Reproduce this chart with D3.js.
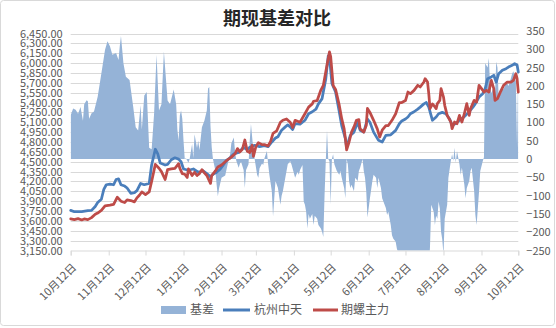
<!DOCTYPE html>
<html>
<head>
<meta charset="utf-8">
<script src="https://cdn.jsdelivr.net/npm/d3@7"></script>
<style>
  html, body { margin: 0; padding: 0; background: #fff; }
  svg { display: block; font-family: "Noto Sans CJK SC", "Liberation Sans", sans-serif; }
</style>
</head>
<body>
<svg id="chart" width="556" height="328"></svg>
<script>
// ---- data (dates as yymmdd) ----
const basisDates = ["201012","201014","201016","201018","201020","201022","201023","201025","201026","201027","201029","201031",
  "201103","201106","201109","201111","201113","201115","201118","201120","201121","201122","201124","201126","201129",
  "201202","201204","201206","201208","201209","201211","201213","201215","201217","201219","201221","201223","201225","201227","201230",
  "210101","210104","210106","210107","210108","210109","210110","210111","210112","210113","210114","210116","210117","210119","210120",
  "210121","210123","210124","210125","210127","210129","210131",
  "210201","210202","210203","210204","210205","210207","210208","210209","210210","210212","210215","210217","210219","210220","210222",
  "210223","210224","210226","210227","210228",
  "210302","210303","210304","210306","210307","210308","210310","210311","210313","210314","210315","210317","210318","210319","210321",
  "210322","210323","210325","210326","210327","210328","210330",
  "210401","210402","210403","210405","210406","210407","210409","210410","210413","210415","210416","210417","210419","210420","210421",
  "210422","210423","210424","210425","210427","210428","210429",
  "210501","210502","210504","210505","210506","210507","210508","210509","210510","210511","210512","210513","210514","210515","210517",
  "210519","210520","210521","210523","210524","210525","210526","210527","210528","210529","210531",
  "210601","210603","210604","210605","210607","210608","210609","210610","210611","210613","210615","210616","210618","210619","210620",
  "210622","210623","210624","210626","210627","210628","210630",
  "210701","210702","210704","210705","210707","210709","210714","210719","210724","210729","210731",
  "210801","210802","210804","210805","210806","210807","210808","210809","210810","210811","210812","210813","210814","210815","210816",
  "210818","210819","210820","210821","210822","210823","210825","210826","210827","210829","210830","210831",
  "210902","210903","210904","210906","210907","210908","210909","210910","210911","210913","210914","210915","210917","210918","210919",
  "210920","210922","210923","210924","210925","210926","210928","210929","210930",
  "211002","211003","211004","211006","211007","211008","211009","211010","211011","211012"];
const basisValues = [120,138,135,124,142,105,150,161,158,110,125,130,
  170,234,299,322,308,285,290,271,308,336,262,225,216,
  142,87,78,147,81,174,183,31,27,124,285,133,150,294,160,
  150,190,150,80,50,120,133,110,50,0,2,-10,0,41,3,
  68,30,50,25,87,105,133,
  193,197,90,32,0,-33,-70,-102,-80,-51,-45,-14,13,43,59,
  22,-5,-24,-12,-8,
  -30,-79,-30,-14,50,96,22,0,-43,-51,-25,-12,-16,2,22,
  -14,-43,-88,-157,-107,-60,-79,
  -125,-100,-88,-51,-33,-14,-6,-14,-51,-35,-43,-30,-16,-116,-125,
  -144,-190,-150,-163,-150,-180,-155,
  -163,-180,-190,-199,-213,-100,-6,78,0,-6,-125,0,13,-14,-33,
  -43,-33,-51,-79,-107,0,-14,-60,-79,-70,-88,
  -51,-60,-33,-24,0,-33,-51,-88,-160,-107,-60,-43,-51,-79,-51,
  -79,-107,-116,-134,-153,-144,-180,
  -208,-217,-226,-245,-265,-300,-320,-300,-310,-290,-300,
  -240,-125,-144,-180,-155,-163,-116,-135,-199,-220,-260,-163,-144,-125,-51,
  -5,13,-5,31,-10,22,-14,-43,-24,-70,-107,-79,
  -60,-33,-24,-88,-153,-180,-135,-88,-33,-6,5,262,250,276,200,
  180,200,170,266,250,170,180,200,190,
  210,207,200,221,234,240,225,212,30,285];

const spotDates = ["201012","201015","201021","201026","201029","201101","201103","201106","201108","201110","201113","201116",
  "201118","201120","201122","201125","201127","201130","201203","201205","201208","201211","201215","201217","201220","201222",
  "201224","201228","201230","210102","210105","210108","210110","210112","210116","210120","210124","210128","210131",
  "210203","210205","210208","210211","210213","210216","210219","210222","210226","210302","210305","210307","210311","210315",
  "210319","210322","210325","210328","210330","210402","210405","210407","210409","210411","210413","210417","210421","210424",
  "210427","210430","210502","210505","210508","210510","210511","210513","210516","210519","210521","210524","210525","210528",
  "210531","210603","210605","210608","210611","210613","210616","210620","210623","210626","210630","210704","210707","210709",
  "210712","210714","210716","210719","210722","210724","210727","210729","210731","210803","210806","210808","210811","210814",
  "210817","210819","210822","210825","210827","210830","210902","210905","210907","210910","210913","210915","210917","210920",
  "210922","210924","210926","210929","211002","211004","211007","211009","211011","211012"];
const spotValues = [3760,3740,3740,3755,3760,3820,3880,3930,4080,4150,4160,4150,
  4230,4240,4150,4130,4100,4020,4030,4060,4170,4150,4170,4450,4690,4620,
  4480,4450,4460,4530,4560,4540,4500,4390,4370,4390,4340,4360,4320,
  4270,4310,4340,4390,4440,4520,4560,4620,4640,4720,4680,4720,4750,4730,
  4745,4730,4800,4860,4880,4980,5030,5060,5030,4990,5080,5070,5130,5230,
  5260,5300,5380,5460,5760,6110,6090,5690,5560,5260,5050,4850,4720,4900,
  4950,5100,4980,4950,5150,5100,4950,4825,4800,4900,4910,4977,5078,5120,
  5150,5180,5230,5260,5300,5330,5380,5400,5330,5130,5180,5230,5250,5230,
  5150,5053,5080,5130,5155,5205,5260,5330,5383,5484,5535,5611,5763,5790,
  5814,5710,5839,5890,5915,5940,5966,5991,5970,5864];

const futDates = ["201012","201015","201018","201021","201023","201026","201029","201101","201103","201106","201109","201113",
  "201116","201119","201122","201125","201127","201130","201203","201205","201207","201209","201212","201215","201217","201220",
  "201223","201225","201228","201230","210102","210105","210108","210109","210111","210113","210115","210116","210119","210121",
  "210123","210125","210127","210129","210131","210203","210204","210207","210209","210212","210215","210218","210220","210223",
  "210225","210227","210301","210303","210305","210307","210309","210310","210312","210314","210317","210319","210322","210324",
  "210326","210329","210401","210403","210406","210409","210411","210413","210417","210421","210424","210427","210428","210501",
  "210504","210506","210509","210511","210512","210514","210516","210519","210521","210523","210524","210525","210527","210529",
  "210531","210602","210604","210605","210608","210610","210611","210613","210616","210619","210621","210623","210626","210628",
  "210701","210704","210707","210709","210712","210714","210716","210719","210722","210724","210727","210728","210730","210731",
  "210801","210803","210804","210806","210807","210809","210810","210812","210813","210815","210818","210819","210821","210823",
  "210825","210827","210829","210831","210902","210903","210906","210908","210910","210912","210914","210916","210918","210920",
  "210922","210923","210925","210928","210930","211003","211006","211008","211010","211011","211012"];
const futValues = [3630,3620,3635,3615,3630,3620,3650,3700,3720,3760,3830,3840,
  3850,3960,3900,3880,3920,3910,3890,3950,3990,4040,4000,4040,4200,4460,
  4400,4350,4230,4380,4390,4400,4470,4400,4320,4310,4260,4390,4290,4340,
  4290,4320,4380,4330,4290,4170,4290,4360,4420,4450,4500,4545,4570,4620,
  4700,4650,4690,4830,4660,4640,4750,4580,4730,4790,4760,4760,4740,4810,
  4930,4970,5100,5130,5150,5100,5020,5130,5100,5230,5330,5380,5420,5430,
  5590,5660,5970,6170,6100,5660,5600,5360,5155,5000,4850,4680,4800,4950,
  5030,5130,5140,5000,4950,5050,5310,5250,5130,5000,4876,4980,5050,5050,
  5130,5230,5400,5400,5430,5560,5535,5585,5662,5637,5712,5763,5712,5535,
  5307,5380,5358,5307,5383,5433,5611,5484,5358,5205,5104,5002,5104,5078,
  5205,5104,5230,5383,5205,5306,5433,5408,5662,5611,5560,5585,5560,5737,
  5611,5433,5460,5585,5662,5712,5712,5737,5839,5763,5560];

const leftTicks = [3150,3300,3450,3600,3750,3900,4050,4200,4350,4500,4650,4800,4950,5100,5250,5400,5550,5700,5850,6000,6150,6300,6450];
const rightTicks = [-250,-200,-150,-100,-50,0,50,100,150,200,250,300,350];
const monthTicks = ["201012","201112","201212","210112","210212","210312","210412","210512","210612","210712","210812","210912","211012"];

const seriesNames = ["基差", "杭州中天", "期螺主力"];
const title = "期现基差对比";

// ---- styles ----
const COLORS = { area: "#95b3d7", spot: "#4a7ebb", fut: "#be4b48", grid: "#d9d9d9", text: "#595959" };

const parse = d3.timeParse("%y%m%d");
const svg = d3.select("#chart");
const W = 556, H = 328;
const plot = { left: 70.7, right: 518.3, top: 33.5, bottom: 250.5 };

const x = d3.scaleTime().domain([parse(monthTicks[0]), parse(monthTicks[monthTicks.length - 1])]).range([plot.left, plot.right]);
const yL = d3.scaleLinear().domain([3150, 6450]).range([plot.bottom, plot.top]);
const yR = d3.scaleLinear().domain([-250, 350]).range([plot.bottom, 31]);

// chart frame
svg.append("rect").attr("x", 0.5).attr("y", 0.5).attr("width", W - 2).attr("height", H - 3)
  .attr("rx", 3).attr("fill", "#fff").attr("stroke", COLORS.grid);

// title
svg.append("text").attr("x", 277).attr("y", 25).attr("text-anchor", "middle")
  .attr("font-size", 18).attr("font-weight", "bold").attr("fill", "#262626").text(title);

// horizontal gridlines
svg.append("g").selectAll("line").data(leftTicks.filter(v => v !== 3150)).join("line")
  .attr("x1", plot.left).attr("x2", plot.right)
  .attr("y1", d => Math.round(yL(d)) + 0.5).attr("y2", d => Math.round(yL(d)) + 0.5)
  .attr("stroke", COLORS.grid).attr("stroke-width", 1);

// clip for the basis area
svg.append("clipPath").attr("id", "plotClip").append("rect")
  .attr("x", plot.left).attr("y", plot.top - 4).attr("width", plot.right - plot.left).attr("height", plot.bottom - plot.top + 4);

const basis = basisDates.map((d, i) => ({ date: parse(d), v: basisValues[i] }));
const spot = spotDates.map((d, i) => ({ date: parse(d), v: spotValues[i] }));
const fut = futDates.map((d, i) => ({ date: parse(d), v: futValues[i] }));

svg.append("path").datum(basis)
  .attr("clip-path", "url(#plotClip)")
  .attr("fill", COLORS.area)
  .attr("d", d3.area().x(d => x(d.date)).y0(yR(0)).y1(d => yR(d.v)));

const line = d3.line().x(d => x(d.date)).y(d => yL(d.v)).curve(d3.curveLinear);
svg.append("path").datum(spot).attr("fill", "none").attr("stroke", COLORS.spot)
  .attr("stroke-width", 2.75).attr("stroke-linejoin", "round").attr("stroke-linecap", "round").attr("d", line);
svg.append("path").datum(fut).attr("fill", "none").attr("stroke", COLORS.fut)
  .attr("stroke-width", 2.75).attr("stroke-linejoin", "round").attr("stroke-linecap", "round").attr("d", line);

// left axis
const gL = svg.append("g").attr("transform", `translate(${plot.left},0)`)
  .call(d3.axisLeft(yL).tickValues(leftTicks).tickFormat(d3.format(",.2f")).tickSize(0).tickPadding(8));
gL.select(".domain").remove();
gL.selectAll("text").attr("font-size", 11).attr("fill", COLORS.text).attr("font-family", "\"Noto Sans CJK SC\", sans-serif");

// right axis
const gR = svg.append("g").attr("transform", `translate(${plot.right},0)`)
  .call(d3.axisRight(yR).tickValues(rightTicks).tickFormat(d3.format("d")).tickSize(0).tickPadding(8));
gR.select(".domain").remove();
gR.selectAll("text").attr("font-size", 11).attr("fill", COLORS.text).attr("font-family", "\"Noto Sans CJK SC\", sans-serif");

// bottom axis
const gB = svg.append("g").attr("transform", `translate(0,${plot.bottom})`)
  .call(d3.axisBottom(x).tickValues(monthTicks.map(parse)).tickFormat(d3.timeFormat("%-m月%-d日")).tickSize(5));
gB.select(".domain").attr("stroke", COLORS.grid);
gB.selectAll(".tick line").attr("stroke", COLORS.grid);
gB.selectAll("text")
  .attr("x", null).attr("y", null).attr("dy", "0.35em")
  .attr("transform", "translate(3,15) rotate(-45)")
  .attr("text-anchor", "end").attr("font-size", 11).attr("fill", COLORS.text)
  .attr("font-family", "\"Noto Sans CJK SC\", sans-serif");

// legend
const lg = svg.append("g").attr("font-size", 12).attr("fill", COLORS.text);
lg.append("rect").attr("x", 161).attr("y", 306).attr("width", 25).attr("height", 8).attr("fill", COLORS.area);
lg.append("text").attr("x", 190).attr("y", 310).attr("dy", "0.35em").text(seriesNames[0]);
lg.append("line").attr("x1", 223).attr("x2", 250).attr("y1", 310).attr("y2", 310)
  .attr("stroke", COLORS.spot).attr("stroke-width", 3);
lg.append("text").attr("x", 254).attr("y", 310).attr("dy", "0.35em").text(seriesNames[1]);
lg.append("line").attr("x1", 313).attr("x2", 338).attr("y1", 310).attr("y2", 310)
  .attr("stroke", COLORS.fut).attr("stroke-width", 3);
lg.append("text").attr("x", 341).attr("y", 310).attr("dy", "0.35em").text(seriesNames[2]);
</script>
</body>
</html>
